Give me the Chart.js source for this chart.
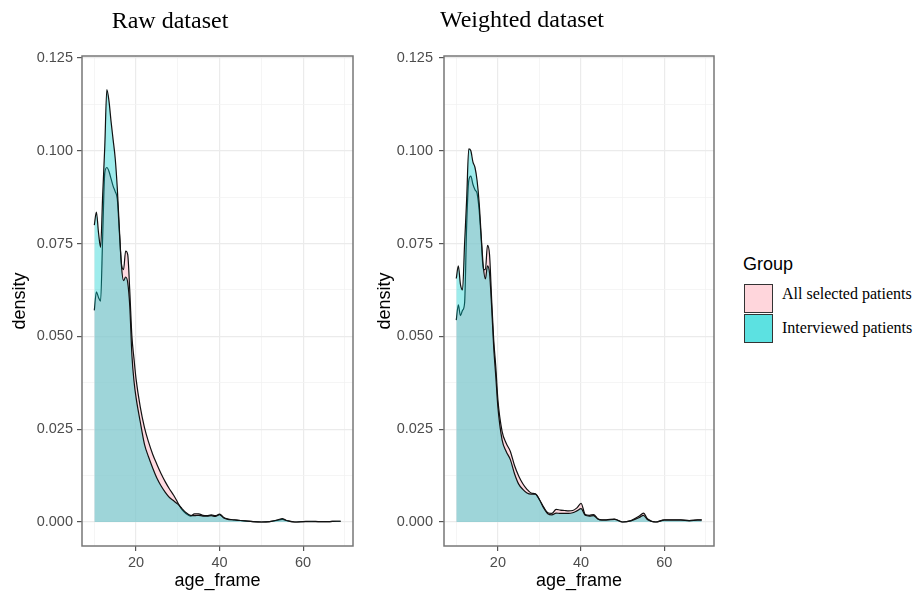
<!DOCTYPE html>
<html>
<head>
<meta charset="utf-8">
<script src="https://cdn.jsdelivr.net/npm/chart.js@4.4.1/dist/chart.umd.min.js"></script>
<style>
  body { margin: 0; background: #fff; }
  #wrap { position: relative; width: 916px; height: 596px; overflow: hidden; }
  canvas { position: absolute; top: 0; }
  .title { position: absolute; font-family: "Liberation Serif", "Times New Roman", serif; font-size: 24px; line-height: 24px; color: #000; text-align: center; }
  .legTitle { position: absolute; left: 743px; top: 255px; font-family: "Liberation Sans", Arial, sans-serif; font-size: 18px; line-height: 18px; color: #000; }
  .key { position: absolute; left: 744px; width: 29px; height: 29px; box-sizing: border-box; border: 1.5px solid #333; }
  .legLabel { position: absolute; left: 782px; font-family: "Liberation Serif", "Times New Roman", serif; font-size: 16px; line-height: 16px; color: #000; white-space: nowrap; }
</style>
</head>
<body>
<div id="wrap">
  <canvas id="rawChart" width="360" height="596" style="left:0"></canvas>
  <canvas id="weightedChart" width="360" height="596" style="left:364px"></canvas>
  <div class="title" style="left:0; width:340px; top:8px">Raw dataset</div>
  <div class="title" style="left:422px; width:200px; top:7px">Weighted dataset</div>
  <div class="legTitle">Group</div>
  <div class="key" style="top:284px; background:#FFD6DC"></div>
  <div class="key" style="top:314px; background:#5CE1E1"></div>
  <div class="legLabel" style="top:286px">All selected patients</div>
  <div class="legLabel" style="top:320px">Interviewed patients</div>
</div>
<script>
const ageFrame = [10, 10.5, 11, 11.5, 12, 12.5, 13, 13.5, 14, 14.5, 15, 15.5, 16, 16.5, 17, 17.5, 18, 18.5, 19, 19.5,
  20, 21, 22, 23, 24, 25, 26, 27, 28, 29, 30, 31, 32, 33, 34, 35, 36, 37, 38, 39, 40, 41, 42, 43, 44, 45, 46,
  48, 50, 52, 54, 55, 56, 58, 60, 62, 64, 66, 68, 69];

// raw dataset
const rawAll = [0.057, 0.062, 0.0605, 0.0595, 0.077, 0.094, 0.0955, 0.0945, 0.0925, 0.0905, 0.089, 0.087, 0.078, 0.0695, 0.068, 0.073, 0.072, 0.062, 0.050, 0.044,
  0.0385, 0.031, 0.0255, 0.0215, 0.0182, 0.0155, 0.0130, 0.0108, 0.0089, 0.0072, 0.0052, 0.0033, 0.0022, 0.0016, 0.0022, 0.0022, 0.0018, 0.0017, 0.0019, 0.0017, 0.0021, 0.0012, 0.0008, 0.0006, 0.0005, 0.0004, 0.0003,
  0.0001, 0, 0.0001, 0.0005, 0.0007, 0.0004, 0, 0.0001, 0.0001, 0.0001, 0.0001, 0.0002, 0.0002];
const rawInterviewed = [0.080, 0.0835, 0.078, 0.074, 0.088, 0.101, 0.1165, 0.1135, 0.108, 0.103, 0.098, 0.090, 0.079, 0.069, 0.065, 0.066, 0.0645, 0.058, 0.045, 0.038,
  0.0335, 0.027, 0.021, 0.0175, 0.0145, 0.0118, 0.0097, 0.0080, 0.0066, 0.0057, 0.0048, 0.0036, 0.0025, 0.0018, 0.0017, 0.0018, 0.0016, 0.0016, 0.0017, 0.0015, 0.002, 0.0011, 0.0007, 0.0006, 0.0005, 0.0004, 0.0003,
  0.0001, 0, 0.0001, 0.0006, 0.0009, 0.0004, 0, 0.0001, 0.0002, 0.0001, 0.0001, 0.0002, 0.0002];

// weighted dataset
const weightedAll = [0.0544, 0.0585, 0.0556, 0.057, 0.059, 0.080, 0.092, 0.0932, 0.091, 0.0895, 0.0885, 0.084, 0.076, 0.068, 0.068, 0.0745, 0.072, 0.060, 0.049, 0.0418,
  0.033, 0.0245, 0.0212, 0.019, 0.0152, 0.0124, 0.0103, 0.0088, 0.0078, 0.0076, 0.0060, 0.0040, 0.0025, 0.0023, 0.0034, 0.0032, 0.0031, 0.003, 0.0031, 0.0038, 0.005, 0.0020, 0.0018, 0.002, 0.0009, 0.0006, 0.0006,
  0.0008, 0, 0.0004, 0.0016, 0.0024, 0.0008, 0, 0.0006, 0.0006, 0.0006, 0.0004, 0.0006, 0.0006];
const weightedInterviewed = [0.0656, 0.069, 0.064, 0.0625, 0.075, 0.087, 0.1005, 0.100, 0.097, 0.0955, 0.092, 0.086, 0.077, 0.0688, 0.0655, 0.069, 0.067, 0.058, 0.047, 0.0392,
  0.031, 0.0222, 0.019, 0.0168, 0.013, 0.0102, 0.0088, 0.0078, 0.0075, 0.0075, 0.0060, 0.0038, 0.0022, 0.0019, 0.0024, 0.0023, 0.0023, 0.0023, 0.0025, 0.003, 0.0036, 0.0018, 0.0016, 0.0017, 0.0008, 0.0005, 0.0005,
  0.0007, 0, 0.0003, 0.0012, 0.0018, 0.0006, 0, 0.0005, 0.0005, 0.0005, 0.0003, 0.0005, 0.0005];

const xTickValues = [10, 20, 30, 40, 50, 60, 70];
const xMajor = [20, 40, 60];
const yTickValues = [0, 0.0125, 0.025, 0.0375, 0.05, 0.0625, 0.075, 0.0875, 0.1, 0.1125, 0.125];
const yMajor = [0, 0.025, 0.05, 0.075, 0.1, 0.125];

const SANS = '"Liberation Sans", Arial, sans-serif';
const isMajor = (list, v) => list.some(m => Math.abs(m - v) < 1e-9);

const panelBorder = {
  id: 'panelBorder',
  afterDatasetsDraw(chart) {
    const a = chart.chartArea, c = chart.ctx;
    c.save();
    c.strokeStyle = '#777';
    c.lineWidth = 1.5;
    c.strokeRect(a.left, a.top, a.right - a.left, a.bottom - a.top);
    c.restore();
  }
};

function makePanel(id, allVals, intVals, yWidth, rightPad, labelPad, titlePad) {
  const toPts = vals => ageFrame.map((x, i) => ({ x: x, y: vals[i] }));
  new Chart(document.getElementById(id), {
    type: 'line',
    data: {
      datasets: [
        {
          label: 'All selected patients',
          data: toPts(allVals),
          order: 2,
          fill: 'origin',
          backgroundColor: 'rgba(255, 196, 206, 0.62)',
          borderColor: '#111',
          borderWidth: 1.2,
          pointRadius: 0,
          cubicInterpolationMode: 'monotone'
        },
        {
          label: 'Interviewed patients',
          data: toPts(intVals),
          order: 1,
          fill: 'origin',
          backgroundColor: 'rgba(0, 204, 204, 0.38)',
          borderColor: '#111',
          borderWidth: 1.2,
          pointRadius: 0,
          cubicInterpolationMode: 'monotone'
        }
      ]
    },
    options: {
      responsive: false,
      animation: false,
      devicePixelRatio: 1,
      layout: { padding: { top: 56, right: rightPad, left: 0, bottom: 0 } },
      plugins: { legend: { display: false }, tooltip: { enabled: false } },
      scales: {
        x: {
          type: 'linear',
          min: 7.05,
          max: 71.95,
          afterBuildTicks: s => { s.ticks = xTickValues.map(v => ({ value: v })); },
          afterFit: s => { s.height = 50; },
          grid: {
            color: c => isMajor(xMajor, c.tick.value) ? '#EBEBEB' : '#F3F3F3',
            lineWidth: c => isMajor(xMajor, c.tick.value) ? 1.2 : 0.8,
            tickColor: c => isMajor(xMajor, c.tick.value) ? '#555' : 'rgba(0,0,0,0)',
            tickLength: 5
          },
          border: { display: false },
          ticks: {
            autoSkip: false,
            maxRotation: 0,
            padding: 3,
            color: '#4D4D4D',
            font: { family: SANS, size: 14.5 },
            callback: v => isMajor(xMajor, v) ? String(v) : ''
          },
          title: {
            display: true,
            text: 'age_frame',
            color: '#000',
            font: { family: SANS, size: 18 },
            padding: { top: 0, bottom: 4 }
          }
        },
        y: {
          type: 'linear',
          min: -0.00647,
          max: 0.12554,
          afterBuildTicks: s => { s.ticks = yTickValues.map(v => ({ value: v })); },
          afterFit: s => { s.width = yWidth; },
          grid: {
            color: c => isMajor(yMajor, c.tick.value) ? '#EBEBEB' : '#F3F3F3',
            lineWidth: c => isMajor(yMajor, c.tick.value) ? 1.2 : 0.8,
            tickColor: c => isMajor(yMajor, c.tick.value) ? '#555' : 'rgba(0,0,0,0)',
            tickLength: 5
          },
          border: { display: false },
          ticks: {
            autoSkip: false,
            padding: labelPad,
            color: '#4D4D4D',
            font: { family: SANS, size: 14.5 },
            callback: v => isMajor(yMajor, v) ? v.toFixed(3) : ''
          },
          title: {
            display: true,
            text: 'density',
            color: '#000',
            font: { family: SANS, size: 18 },
            padding: { top: titlePad, bottom: 0 }
          }
        }
      }
    },
    plugins: [panelBorder]
  });
}

makePanel('rawChart', rawAll, rawInterviewed, 82, 7, 4, 9);
makePanel('weightedChart', weightedAll, weightedInterviewed, 80, 10, 6, 10);
</script>
</body>
</html>
